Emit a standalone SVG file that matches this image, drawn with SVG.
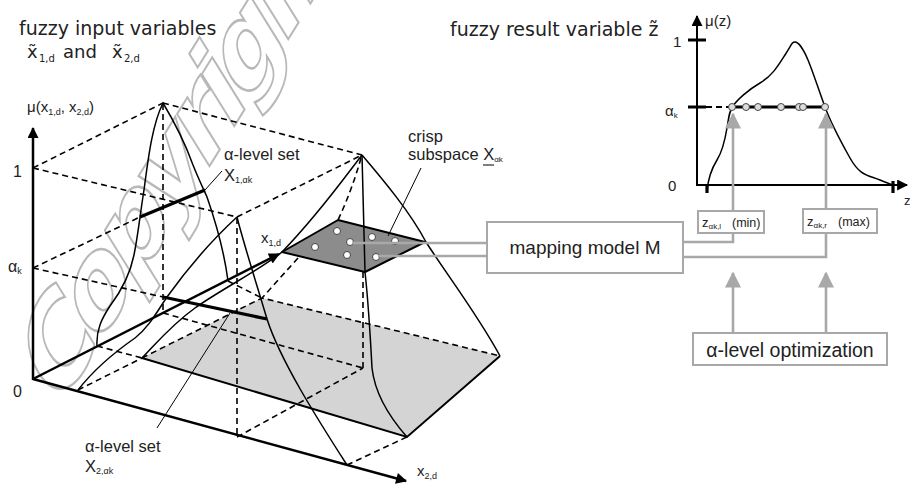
<svg xmlns="http://www.w3.org/2000/svg" width="910" height="484" viewBox="0 0 910 484">
<defs>
<style>
.t{font-family:"Liberation Sans",Arial,sans-serif;fill:#222}
.v{font-family:"DejaVu Sans",Verdana,sans-serif;fill:#222}
.wm{font-family:"DejaVu Sans",Verdana,sans-serif;font-weight:bold;fill:none;stroke:#b8b8b8;stroke-width:2.2;letter-spacing:-10px}
.ax{stroke:#000;stroke-width:2.5;fill:none}
.cv{stroke:#000;stroke-width:1.5;fill:none}
.ds{stroke:#000;stroke-width:1.6;stroke-dasharray:6 4;fill:none}
.tk{stroke:#000;stroke-width:3.2;fill:none}
.g{stroke:#a8a8a8;stroke-width:2.6;fill:none}
.gb{fill:#fff;stroke:#a8a8a8;stroke-width:2}
.pt{fill:#fff;stroke:#444;stroke-width:1}
.pz{fill:#ddd;stroke:#444;stroke-width:1}
.thin{stroke:#000;stroke-width:1;fill:none}
</style>
<marker id="ah" viewBox="0 0 10 10" refX="9" refY="5" markerWidth="16" markerHeight="11" markerUnits="userSpaceOnUse" orient="auto"><path d="M0,0 L10,5 L0,10 z" fill="#000"/></marker>
<marker id="gh" viewBox="0 0 10 10" refX="9" refY="5" markerWidth="18" markerHeight="16" markerUnits="userSpaceOnUse" orient="auto"><path d="M0,0 L10,5 L0,10 z" fill="#a8a8a8"/></marker>
</defs>
<rect width="910" height="484" fill="#fff"/>

<g id="watermark">
<text class="wm" font-size="135" transform="translate(57,412) scale(0.62,1) rotate(-45)" vector-effect="non-scaling-stroke">Copyright</text>
</g>

<g id="support-region">
<polygon points="142,358 262,298 500,356 407,437" fill="#d4d4d4"/>
<path class="cv" style="stroke-width:2" d="M142,358 L407,437 L500,356"/>
</g>

<g id="dashed-lines">
<path class="ds" d="M33,168 L163,103 M33,168 L237,217 M163,103 L362,155 M237,217 L362,155"/>
<path class="ds" d="M163,104 L163,313 M237,218 L237,437 M361,158 Q352,190 338,220 M363,272 L363,368"/>
<path class="ds" d="M163,313 L363,368 M237,437 L363,368 M97,346 L142,358 M78,390 L142,358"/>
<path class="ds" d="M142,358 L262,298 L500,356 M347,465 L407,437 M228,281 L262,298 M298,258 L262,298"/>
<path class="ds" d="M33,268 L140,217 M33,268 L163,297"/>
</g>

<g id="membership-curves">
<path class="cv" d="M97,346 C96,330 102,318 110,306 C122,290 130,275 134,255 C138,235 140,215 144,190 C148,160 152,125 163,103 C172,118 184,140 193,165 C199,180 203,188 207,197 C215,220 224,250 228,281"/>
<path class="cv" d="M78,390 C92,372 112,354 135,338 C150,326 158,310 167,297 C185,272 212,240 237,217"/>
<path class="cv" d="M237,217 C244,245 257,285 267,319 C280,360 318,420 347,465"/>
<path class="cv" d="M282,252 C260,270 220,290 195,308 C170,326 155,345 142,358"/>
<path class="cv" d="M362,155 C345,177 318,215 282,252"/>
<path class="cv" d="M362,155 C385,182 410,212 426,242 C445,272 478,315 500,356"/>
<path class="tk" d="M140,217 L205,190 M163,297 L267,319"/>
</g>

<g id="crisp-subspace">
<polygon points="282,252 338,220 425,242 365,272" fill="#8c8c8c" stroke="#000" stroke-width="2" stroke-linejoin="round"/>
<path class="cv" d="M362,155 L365,272 C367,290 370,330 372,368 C375,395 392,420 407,437"/>
<circle class="pt" cx="337" cy="231" r="3.5"/>
<circle class="pt" cx="315" cy="247" r="3.5"/>
<circle class="pt" cx="350" cy="242" r="3.5"/>
<circle class="pt" cx="372" cy="237" r="3.5"/>
<circle class="pt" cx="395" cy="241" r="3.5"/>
<circle class="pt" cx="347" cy="255" r="3.5"/>
<circle class="pt" cx="376" cy="257" r="3.5"/>
</g>

<g id="axes">
<path class="ax" d="M33,380 L33,128" marker-end="url(#ah)"/>
<path class="ax" d="M33,379 L279,254" marker-end="url(#ah)"/>
<path class="ax" d="M33,379 L406,481" marker-end="url(#ah)"/>
</g>

<g id="left-labels">
<text class="t" x="27" y="112" font-size="15">μ(x<tspan font-size="9" dy="3">1,d</tspan><tspan dy="-3">, x</tspan><tspan font-size="9" dy="3">2,d</tspan><tspan dy="-3">)</tspan></text>
<text class="t" x="13" y="177" font-size="16">1</text>
<text class="t" x="8" y="272" font-size="16">α<tspan font-size="9" dy="2">k</tspan></text>
<text class="t" x="13" y="397" font-size="16">0</text>
<text class="t" x="261" y="243" font-size="15">x<tspan font-size="9" dy="3">1,d</tspan></text>
<text class="t" x="417" y="476" font-size="15">x<tspan font-size="9" dy="3">2,d</tspan></text>
</g>

<g id="alpha-set-1">
<text class="t" x="224" y="160" font-size="16.5">α-level set</text>
<text class="t" x="224" y="181" font-size="16.5">X<tspan font-size="9" dy="2">1,αk</tspan></text>
<path class="thin" d="M222,171 L205,190"/>
</g>

<g id="alpha-set-2">
<text class="t" x="85" y="452" font-size="16.5">α-level set</text>
<text class="t" x="85" y="472" font-size="16.5">X<tspan font-size="9" dy="2">2,αk</tspan></text>
<path class="thin" d="M157,428 L230,313"/>
</g>

<g id="subspace-label">
<text class="t" x="408" y="142" font-size="16.5">crisp</text>
<text class="t" x="408" y="160" font-size="16.5">subspace X<tspan font-size="8" dy="2">αk</tspan></text>
<path class="thin" d="M483,165 L494,165"/>
<path class="thin" d="M421,168 L388,236"/>
</g>

<g id="titles">
<text class="v" x="19" y="35" font-size="19">fuzzy input variables</text>
<text class="v" x="27" y="58" font-size="18">x&#x303;</text>
<text class="v" x="39" y="62" font-size="10">1,d</text>
<text class="v" x="63" y="58" font-size="18">and</text>
<text class="v" x="112" y="58" font-size="18">x&#x303;</text>
<text class="v" x="124" y="62" font-size="10">2,d</text>
<text class="v" x="450" y="36" font-size="19">fuzzy result variable z&#x303;</text>
</g>

<g id="mapping-model">
<rect class="gb" x="487" y="222" width="196" height="51"/>
<text class="t" x="585" y="254" font-size="19" text-anchor="middle">mapping model M</text>
</g>

<g id="z-left">
<rect class="gb" x="698" y="211" width="66" height="22"/>
<text class="t" x="702" y="227" font-size="13">z<tspan font-size="8" dy="2">αk,l</tspan></text>
<text class="t" x="732" y="227" font-size="12.5">(min)</text>
</g>

<g id="z-right">
<rect class="gb" x="803" y="209" width="74" height="24"/>
<text class="t" x="807" y="226" font-size="13">z<tspan font-size="8" dy="2">αk,r</tspan></text>
<text class="t" x="838" y="226" font-size="12.5">(max)</text>
</g>

<g id="alpha-optimization">
<rect class="gb" x="693" y="333" width="194" height="32"/>
<text class="t" x="790" y="357" font-size="19.5" text-anchor="middle">α-level optimization</text>
</g>

<g id="result-chart">
<path class="ax" style="stroke-width:2" d="M697,186 L697,16" marker-end="url(#ah)"/>
<path class="ax" style="stroke-width:2" d="M696,185 L907,185" marker-end="url(#ah)"/>
<path class="tk" d="M688,40 L706,40 M688,107 L706,107 M707,185 L707,193 M893,181 L893,193"/>
<path class="ds" style="stroke-width:2" d="M706,107 L732,107"/>
<path class="tk" d="M732,107 L825,107"/>
<path class="cv" d="M707,191 C708,180 712,168 717,160 S725,140 727,128 S729,112 733,106 S748,90 760,83 S778,66 785,55 S792,42 795,42 S803,48 808,60 S818,88 825,107 S840,140 850,158 S868,175 880,180 S890,184 893,185"/>
<circle class="pz" cx="732" cy="107" r="3.5"/>
<circle class="pz" cx="746" cy="107" r="3.5"/>
<circle class="pz" cx="758" cy="107" r="3.5"/>
<circle class="pz" cx="781" cy="107" r="3.5"/>
<circle class="pz" cx="799" cy="107" r="3.5"/>
<circle class="pz" cx="803" cy="107" r="3.5"/>
<circle class="pz" cx="825" cy="107" r="3.5"/>
<text class="t" x="705" y="26" font-size="15">μ(z)</text>
<text class="t" x="673" y="47" font-size="15">1</text>
<text class="t" x="665" y="116" font-size="15">α<tspan font-size="8" dy="2">k</tspan></text>
<text class="t" x="668" y="191" font-size="15">0</text>
<text class="t" x="904" y="205" font-size="13">z</text>
</g>

<g id="connectors">
<path class="g" d="M352,243 L487,243 M378,256 L487,256"/>
<path class="g" d="M683,242 L733,242 L733,233 M683,257 L826,257 L826,233"/>
<path class="g" d="M733,211 L733,114" marker-end="url(#gh)"/>
<path class="g" d="M826,209 L826,114" marker-end="url(#gh)"/>
<path class="g" d="M733,333 L733,273" marker-end="url(#gh)"/>
<path class="g" d="M826,333 L826,273" marker-end="url(#gh)"/>
</g>
</svg>
